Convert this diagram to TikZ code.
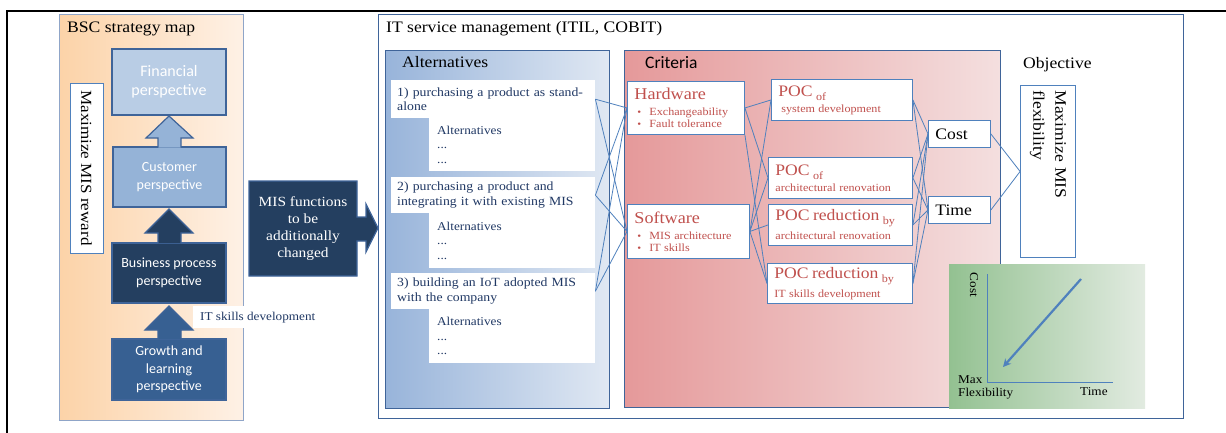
\documentclass[tikz,border=0pt]{standalone}
\usepackage{fontspec}
\setmainfont[FakeStretch=1.1]{Liberation Serif}
\newfontfamily\calib{Carlito}
\usetikzlibrary{arrows.meta}
\definecolor{bord}{HTML}{3F6499}
\definecolor{bscbord}{HTML}{8FA5C8}
\definecolor{lineblue}{HTML}{4F81BD}
\definecolor{orL}{HTML}{FCD3A8}
\definecolor{orR}{HTML}{FEF1E6}
\definecolor{finC}{HTML}{B9CDE5}
\definecolor{cusC}{HTML}{95B3D7}
\definecolor{busC}{HTML}{243F60}
\definecolor{groC}{HTML}{376092}
\definecolor{altL}{HTML}{98B4DA}
\definecolor{altR}{HTML}{E0E8F3}
\definecolor{crL}{HTML}{E5999A}
\definecolor{crR}{HTML}{F4DFDF}
\definecolor{grL}{HTML}{93C191}
\definecolor{grR}{HTML}{E2EBE1}
\definecolor{redT}{HTML}{C0504D}
\definecolor{navyT}{HTML}{203864}
\newcommand\myfs[2]{\fontsize{#1}{#2}\selectfont}
\newcommand\critbul{\hspace*{3pt}\makebox[12pt][l]{\myfs{10}{10}\textbullet}}
\newcommand\pocsub[1]{\raisebox{-4pt}{\myfs{11}{12}#1}}
\begin{document}
\begin{tikzpicture}[x=1pt,y=-1pt,
  panel/.style={draw=bord, line width=0.9pt, anchor=north west, inner sep=0pt},
  persp/.style={draw=bord, line width=1.2pt, font=\calib\myfs{14}{17.5}, text=white, align=center, inner sep=0pt},
  title/.style={anchor=base west, inner sep=0pt, font=\myfs{16}{18}},
  alttxt/.style={fill=white, anchor=north west, inner ysep=0pt, align=left, text=navyT},
  critbox/.style={draw=lineblue, fill=white, line width=0.9pt, anchor=north west, inner xsep=7pt, inner ysep=0pt, align=left, text=redT},
  conn/.style={draw=lineblue, line width=0.8pt},
  blk/.style={draw=bord, line width=1.2pt}
]
\useasboundingbox (0,0) rectangle (1226,432);
% outer frame
\draw[line width=2.6pt] (7,433) -- (7,11) -- (1227,11);

% ---------- BSC strategy map ----------
\node[panel, draw=bscbord, left color=orL, right color=orR, minimum width=184, minimum height=406] (bsc) at (59,14) {};
\node[title] (bsct) at (67,32) {BSC strategy map};
\node[draw=lineblue, fill=white, line width=0.9pt, rotate=-90, minimum width=170, minimum height=33, inner sep=0pt, font=\myfs{15.5}{18}] (mmr) at (86.5,168) {Maximize MIS reward};

\node[persp, fill=finC, minimum width=114, minimum height=66, font=\calib\myfs{16}{19}] (fin) at (169,82) {Financial\\perspective};
\node[persp, fill=cusC, minimum width=113, minimum height=60] (cus) at (169.5,177) {Customer\\perspective};
\node[persp, fill=busC, minimum width=114, minimum height=60] (bus) at (169,273) {Business process\\perspective};
\node[persp, fill=groC, minimum width=114, minimum height=61] (gro) at (169,369.5) {Growth and\\learning\\perspective};

\filldraw[blk, fill=cusC] (158,147.5) -- (158,138) -- (146,138) -- (169,116) -- (193,138) -- (181,138) -- (181,147.5);
\filldraw[blk, fill=busC] (158,243) -- (158,233) -- (145,233) -- (169,209) -- (193,233) -- (181,233) -- (181,243);
\filldraw[blk, fill=groC] (158,339) -- (158,330) -- (145,330) -- (169,306) -- (193,330) -- (181,330) -- (181,339);

\node[fill=white, anchor=north west, minimum width=127, minimum height=22, inner xsep=7pt, inner ysep=0pt, text=navyT, font=\myfs{12}{14}] (its) at (193,306) {\mbox{IT skills development}};

% ---------- MIS functions arrow ----------
\filldraw[blk, fill=busC] (249,181) -- (357,181) -- (357,217) -- (366,217) -- (366,204) -- (378,228) -- (366,252) -- (366,241) -- (357,241) -- (357,276) -- (249,276) -- cycle;
\node[minimum width=108, minimum height=95, inner sep=0pt, text=white, font=\myfs{14}{17}, align=center] (mis) at (303,228.5) {MIS functions\\to be\\additionally\\changed};

% ---------- IT service management ----------
\node[panel, fill=white, line width=1.2pt, minimum width=805, minimum height=404] (itsm) at (378,14) {};
\node[title] (itsmt) at (386,32) {IT service management (ITIL, COBIT)};

% Alternatives
\node[panel, left color=altL, right color=altR, minimum width=224, minimum height=358] (altp) at (385,50) {};
\node[title] (altt) at (402,67) {Alternatives};

\node[alttxt, inner xsep=6pt, text width=192, minimum height=38, font=\myfs{12.5}{14.5}] (alt1) at (391,80) {1) purchasing a product as stand-\\alone};
\node[alttxt, inner xsep=8pt, text width=150, minimum height=53, font=\myfs{12}{14.5}] (alt1s) at (429,118) {Alternatives\\...\\...};
\node[alttxt, inner xsep=6pt, text width=192, minimum height=36, font=\myfs{12.5}{14.5}] (alt2) at (391,177) {2) purchasing a product and\\integrating it with existing MIS};
\node[alttxt, inner xsep=8pt, text width=150, minimum height=55, font=\myfs{12}{14.5}] (alt2s) at (429,213) {Alternatives\\...\\...};
\node[alttxt, inner xsep=6pt, text width=192, minimum height=36, font=\myfs{12.5}{14.5}] (alt3) at (391,273) {3) building an IoT adopted MIS\\with the company};
\node[alttxt, inner xsep=8pt, text width=150, minimum height=54, font=\myfs{12}{14.5}] (alt3s) at (429,309) {Alternatives\\...\\...};

% Criteria
\node[panel, left color=crL, right color=crR, minimum width=376, minimum height=357] (crp) at (624,50) {};
\node[anchor=base west, inner sep=0pt, font=\calib\myfs{17.5}{20}] (crt) at (645,68) {Criteria};

\node[critbox, text width=103, minimum height=53] (hw) at (627,81) {{\myfs{16.5}{17}Hardware}\\[3pt]\myfs{11}{13}\critbul Exchangeability\\\critbul Fault tolerance};
\node[critbox, text width=108, minimum height=54] (sw) at (627,204) {{\myfs{16.5}{17}Software}\\[3pt]\myfs{11}{13}\critbul MIS architecture\\\critbul IT skills};

\node[critbox, text width=127, minimum height=41] (poc1) at (771,79) {{\myfs{16}{17}POC \pocsub{of}}\\[4pt]\myfs{11}{14}\hspace*{3pt}system development};
\node[critbox, text width=130, minimum height=41] (poc2) at (768,157) {{\myfs{16}{17}POC \pocsub{of}}\\[4pt]\myfs{11}{14}architectural renovation};
\node[critbox, text width=130, minimum height=41] (poc3) at (768,204) {{\myfs{16}{17}POC reduction \pocsub{by}}\\[4pt]\myfs{11}{14}architectural renovation};
\node[critbox, text width=131, minimum height=40] (poc4) at (767,263) {{\myfs{16}{17}POC reduction \pocsub{by}}\\[4pt]\myfs{11}{14}IT skills development};

\node[critbox, text=black, text width=48, minimum height=27, font=\myfs{16}{18}] (cost) at (928,120) {Cost};
\node[critbox, text=black, text width=48, minimum height=27, font=\myfs{16}{18}] (time) at (928,196) {Time};

% Objective
\node[title] (objt) at (1023,68) {Objective};
\node[draw=lineblue, fill=white, line width=0.9pt, rotate=-90, anchor=north west, minimum width=172, minimum height=55, inner xsep=5pt, inner ysep=0pt, text width=162, align=left, font=\myfs{16}{22}] (obj) at (1076,85) {Maximize MIS\\flexibility};

% connectors
\foreach \a in {alt1,alt2,alt3}{
  \draw[conn] (\a.east) -- (hw.west);
  \draw[conn] (\a.east) -- (sw.west);
}
\draw[conn] (hw.east) -- (poc1.west);
\draw[conn] (hw.east) -- (poc2.west);
\draw[conn] (hw.south east) -- (poc4.west);
\foreach \p in {poc1,poc2,poc3,poc4}{
  \draw[conn] (sw.east) -- (\p.west);
  \draw[conn] (\p.east) -- (cost.west);
  \draw[conn] (\p.east) -- (time.west);
}
\draw[conn] (cost.east) -- (obj.south);
\draw[conn] (time.east) -- (obj.south);

% chart
\node[anchor=north west, left color=grL, right color=grR, minimum width=196, minimum height=144, inner sep=0pt] (chart) at (949,264) {};
\coordinate (ytop) at (987,274);
\coordinate (orig) at (987,382);
\coordinate (xend) at (1113,382);
\draw[lineblue, line width=1pt] (ytop) -- (orig) -- (xend);
\coordinate (a1) at (1081,279);
\coordinate (a2) at (1003,367);
\draw[lineblue, line width=2.2pt, -{Stealth[length=8pt,width=8pt]}] (a1) -- (a2);
\node[rotate=-90, inner sep=0pt, font=\myfs{12}{14}] (clab) at (974,285) {Cost};
\node[anchor=west, align=left, inner sep=0pt, font=\myfs{12}{13}] (mf) at (958,387.5) {Max\\Flexibility};
\node[anchor=west, inner sep=0pt, font=\myfs{12}{14}] (tlab) at (1080,392) {Time};
\end{tikzpicture}
\end{document}
